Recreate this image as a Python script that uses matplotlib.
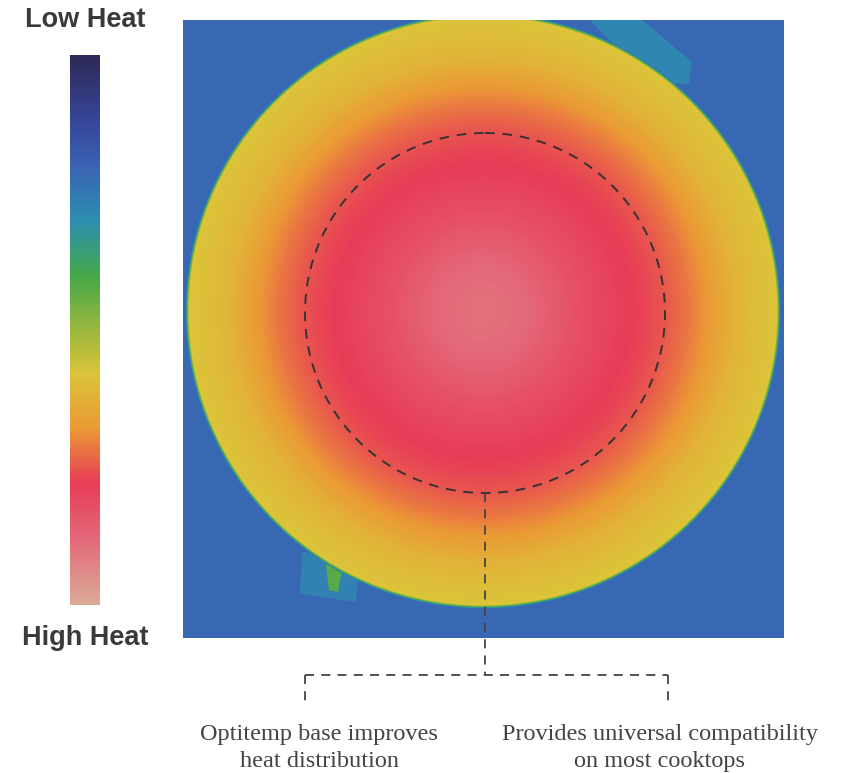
import numpy as np
import matplotlib
import matplotlib.pyplot as plt
from matplotlib.colors import LinearSegmentedColormap
from matplotlib.patches import Circle, Polygon, Rectangle

# colour scale, low heat (top) to high heat (bottom)
scale_pos = [0.00, 0.12, 0.20, 0.30, 0.40, 0.50, 0.58, 0.68, 0.78, 0.88, 1.00]
scale_col = ['#2e2a58', '#37479a', '#3a63b4', '#2d8fb0', '#45a84a', '#9ab83e',
             '#dcc43a', '#eb9a35', '#e83c58', '#e46878', '#dcaa98']

# radial heat profile of the pan base (r = fraction of pan radius)
profile_r = [0.00, 0.15, 0.30, 0.45, 0.55, 0.62, 0.70, 0.78, 0.85, 0.92, 1.00, 1.006, 1.012]
profile_v = [0.90, 0.88, 0.83, 0.79, 0.77, 0.75, 0.715, 0.67, 0.625, 0.60, 0.58, 0.42, 0.215]
background_v = 0.212
tab_v = [0.285, 0.27, 0.42]

notes = ['Optitemp base improves\nheat distribution',
         'Provides universal compatibility\non most cooktops']

cmap = LinearSegmentedColormap.from_list('thermal', list(zip(scale_pos, scale_col)))

fig = plt.figure(figsize=(8.46, 7.73), dpi=100)
ax = fig.add_axes([0, 0, 1, 1])

# thermal image: cooktop background, handle tabs, pan base
x0, x1, y0, y1 = 183, 784, 20, 638
ax.add_patch(Rectangle((x0, y0), x1 - x0, y1 - y0, fc=cmap(background_v), ec='none', zorder=1))
ax.add_patch(Polygon([(590, 20), (642, 20), (692, 62), (689, 84), (650, 82)],
                     fc=cmap(tab_v[0]), ec='none', zorder=2))
ax.add_patch(Polygon([(302, 552), (360, 560), (356, 602), (300, 594)], fc=cmap(tab_v[1]),
                     ec='none', zorder=2))
ax.add_patch(Polygon([(325, 556), (344, 558), (338, 592), (329, 590)], fc=cmap(tab_v[2]),
                     ec='none', zorder=2))

cx, cy, R = 483, 311, 294
xx, yy = np.meshgrid(np.arange(x0, x1) + 0.5, np.arange(y0, y1) + 0.5)
r = np.hypot(xx - cx, yy - cy) / R
heat = np.interp(r, profile_r, profile_v)
heat = np.ma.masked_where(r > profile_r[-1], heat)
ax.imshow(heat, cmap=cmap, vmin=0, vmax=1, extent=[x0, x1, y1, y0],
          origin='upper', interpolation='bilinear', zorder=3)

# dashed ring
ax.add_patch(Circle((485, 313), 180, fill=False, ec='#333333', lw=1.4,
                    ls=(0, (5, 4)), zorder=4))

# colour bar
grad = np.linspace(0, 1, 300).reshape(-1, 1)
ax.imshow(grad, cmap=cmap, vmin=0, vmax=1, extent=[70, 100, 605, 55],
          origin='upper', aspect='auto')
ax.text(85, 20, 'Low Heat', ha='center', va='center', fontsize=19.5,
        family='Liberation Sans', weight='bold', color='#3a3a3a')
ax.text(85, 638, 'High Heat', ha='center', va='center', fontsize=19.5,
        family='Liberation Sans', weight='bold', color='#3a3a3a')

# connector lines
dash = dict(color='#444444', lw=1.3, ls=(0, (5, 4)), zorder=5)
ax.plot([485, 485], [493, 675], **dash)
ax.plot([305, 668], [675, 675], **dash)
ax.plot([305, 305], [675, 706], **dash)
ax.plot([668, 668], [675, 706], **dash)

ax.text(319, 748, notes[0], ha='center', va='center', fontsize=17.5,
        family='Liberation Serif', color='#444444', linespacing=1.32)
ax.text(660, 748, notes[1], ha='center', va='center', fontsize=17.5,
        family='Liberation Serif', color='#444444', linespacing=1.32)

ax.set_xlim(0, 846)
ax.set_ylim(773, 0)
ax.axis('off')
fig.savefig('out.png', dpi=100)
